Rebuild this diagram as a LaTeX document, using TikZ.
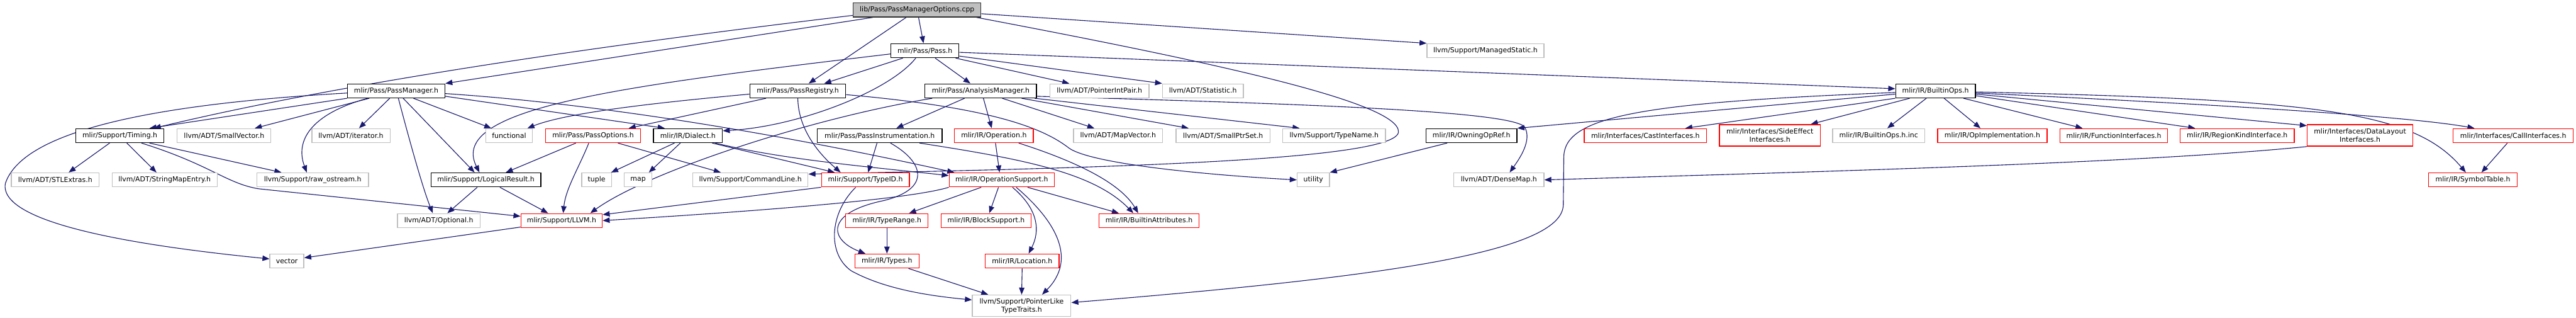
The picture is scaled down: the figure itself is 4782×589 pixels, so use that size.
\documentclass[tikz,border=0pt]{standalone}
\usepackage{fontspec}
\setmainfont{DejaVu Sans}
\usetikzlibrary{arrows.meta}
\definecolor{edgeblue}{HTML}{191970}
\definecolor{extgray}{HTML}{BFBFBF}
\pgfdeclarelayer{bg}
\pgfsetlayers{bg,main}
\tikzset{
  box/.style={draw, rectangle, fill=white, inner sep=0pt, minimum height=26pt, line width=1.5pt,
    font=\fontsize{12.76pt}{15pt}\selectfont, align=center},
  blk/.style={box, draw=black},
  ext/.style={box, draw=extgray},
  trn/.style={box, draw=red},
  root/.style={box, draw=black!80, fill=extgray},
  two/.style={minimum height=40pt},
  dep/.style={draw=edgeblue, line width=1.3pt, -{Triangle[length=13pt,width=10pt]}},
}
\begin{document}
\begin{tikzpicture}[x=1pt,y=-1pt]
\useasboundingbox (0,0) rectangle (4782,589);
% row A
\node[root, minimum width=237pt] (cpp) at (1702.5,18.5) {lib/Pass/PassManagerOptions.cpp};
% row B
\node[blk, minimum width=126pt] (pass) at (1717,94) {mlir/Pass/Pass.h};
\node[ext, minimum width=217pt] (managed) at (2757.5,94) {llvm/Support/ManagedStatic.h};
% row C
\node[blk, minimum width=181pt] (pm) at (735.5,168.5) {mlir/Pass/PassManager.h};
\node[blk, minimum width=178pt] (preg) at (1481,168.5) {mlir/Pass/PassRegistry.h};
\node[blk, minimum width=207pt] (am) at (1820.5,168.5) {mlir/Pass/AnalysisManager.h};
\node[ext, minimum width=184pt] (pip) at (2041,168.5) {llvm/ADT/PointerIntPair.h};
\node[ext, minimum width=150pt] (stat) at (2233,168.5) {llvm/ADT/Statistic.h};
\node[blk, minimum width=148pt] (bops) at (3593,168.5) {mlir/IR/BuiltinOps.h};
% row D
\node[blk, minimum width=163pt] (timing) at (222.5,251.5) {mlir/Support/Timing.h};
\node[ext, minimum width=174pt] (smallvec) at (416,251.5) {llvm/ADT/SmallVector.h};
\node[ext, minimum width=145pt] (iter) at (651.5,251.5) {llvm/ADT/iterator.h};
\node[ext, minimum width=86pt] (functional) at (945,251.5) {functional};
\node[trn, minimum width=176pt] (popts) at (1101,251.5) {mlir/Pass/PassOptions.h};
\node[blk, minimum width=128pt] (dialect) at (1277,251.5) {mlir/IR/Dialect.h};
\node[blk, minimum width=232pt] (pinst) at (1633,251.5) {mlir/Pass/PassInstrumentation.h};
\node[trn, minimum width=146pt] (op) at (1845,251.5) {mlir/IR/Operation.h};
\node[ext, minimum width=165pt] (mapvec) at (2075.5,251.5) {llvm/ADT/MapVector.h};
\node[ext, minimum width=175pt] (smallptr) at (2270.5,251.5) {llvm/ADT/SmallPtrSet.h};
\node[ext, minimum width=191pt] (typename) at (2476.5,251.5) {llvm/Support/TypeName.h};
\node[blk, minimum width=169pt] (owning) at (2731.5,251.5) {mlir/IR/OwningOpRef.h};
\node[trn, minimum width=227pt] (cast) at (3054.5,251.5) {mlir/Interfaces/CastInterfaces.h};
\node[trn, two, minimum width=187pt] (sideeff) at (3285.5,251) {mlir/Interfaces/SideEffect\\Interfaces.h};
\node[ext, minimum width=171pt] (binc) at (3487.5,251.5) {mlir/IR/BuiltinOps.h.inc};
\node[trn, minimum width=203pt] (opimpl) at (3698.5,251.5) {mlir/IR/OpImplementation.h};
\node[trn, minimum width=200pt] (funcif) at (3924,251.5) {mlir/IR/FunctionInterfaces.h};
\node[trn, minimum width=212pt] (regkind) at (4153,251.5) {mlir/IR/RegionKindInterface.h};
\node[trn, two, minimum width=196pt] (datalayout) at (4381,251) {mlir/Interfaces/DataLayout\\Interfaces.h};
\node[trn, minimum width=223pt] (callif) at (4665.5,251.5) {mlir/Interfaces/CallInterfaces.h};
% row E
\node[ext, minimum width=163pt] (stl) at (102.5,333.5) {llvm/ADT/STLExtras.h};
\node[ext, minimum width=195pt] (smap) at (305.5,333.5) {llvm/ADT/StringMapEntry.h};
\node[ext, minimum width=207pt] (raw) at (580.5,333.5) {llvm/Support/raw\_ostream.h};
\node[blk, minimum width=204pt] (logres) at (902,333.5) {mlir/Support/LogicalResult.h};
\node[ext, minimum width=55pt] (tuple) at (1107.5,333.5) {tuple};
\node[ext, minimum width=51pt] (map) at (1184.5,333.5) {map};
\node[ext, minimum width=214pt] (cmdline) at (1393,333.5) {llvm/Support/CommandLine.h};
\node[trn, minimum width=163pt] (typeid) at (1606.5,333.5) {mlir/Support/TypeID.h};
\node[trn, minimum width=195pt] (opsup) at (1859.5,333.5) {mlir/IR/OperationSupport.h};
\node[ext, minimum width=60pt] (utility) at (2438,333.5) {utility};
\node[ext, minimum width=167pt] (densemap) at (2782.5,333.5) {llvm/ADT/DenseMap.h};
\node[trn, minimum width=165pt] (symtab) at (4590.5,333.5) {mlir/IR/SymbolTable.h};
% row F
\node[ext, minimum width=153pt] (optional) at (814.5,409) {llvm/ADT/Optional.h};
\node[trn, minimum width=151pt] (llvmh) at (1042.5,409) {mlir/Support/LLVM.h};
\node[trn, minimum width=153pt] (trange) at (1646.5,409) {mlir/IR/TypeRange.h};
\node[trn, minimum width=167pt] (blocksup) at (1830.5,409) {mlir/IR/BlockSupport.h};
\node[trn, minimum width=186pt] (battr) at (2133,409) {mlir/IR/BuiltinAttributes.h};
% row G
\node[ext, minimum width=63pt] (vector) at (532.5,484) {vector};
\node[trn, minimum width=119pt] (types) at (1646.5,484) {mlir/IR/Types.h};
\node[trn, minimum width=137pt] (location) at (1897.5,484) {mlir/IR/Location.h};
% row H
\node[ext, two, minimum width=183pt] (plike) at (1896.5,567) {llvm/Support/PointerLike\\TypeTraits.h};

\begin{pgfonlayer}{bg}
% cpp
\draw[dep] (cpp) -- (pass);
\draw[dep] (cpp) -- (preg);
\draw[dep] ([xshift=-82pt]cpp.south) -- (pm.north east);
\draw[dep] ([yshift=-10pt]cpp.west) .. controls (1150,80) and (650,150) .. ([xshift=63pt]timing.north);
\draw[dep] ([yshift=-7pt]cpp.east) -- (managed.north west);
\draw[dep] ([xshift=110pt]cpp.south) .. controls (2250,115) and (2600,190) .. (2596,245) .. controls (2590,300) and (2000,312) .. ([yshift=-3pt]cmdline.north east);
% pass
\draw[dep] ([xshift=-41pt]pass.south) -- ([xshift=49pt]preg.north);
\draw[dep] ([xshift=-17pt]pass.south) .. controls (1650,170) and (1480,235) .. ([yshift=9pt]dialect.east);
\draw[dep] (pass) -- (am);
\draw[dep] ([yshift=-6pt]pass.west) .. controls (1150,160) and (830,200) .. ([xshift=-12pt]logres.north);
\draw[dep] ([xshift=57pt]pass.south) -- ([xshift=-56pt]pip.north);
\draw[dep] ([yshift=-10pt]pass.east) -- (stat.north west);
\draw[dep] ([yshift=-3pt]pass.east) -- ([yshift=4pt]bops.west);
% pass manager
\draw[dep] (pm.south west) -- ([xshift=55pt]timing.north);
\draw[dep] ([xshift=-50pt]pm.south) -- ([xshift=57pt]smallvec.north);
\draw[dep] ([xshift=-12pt]pm.south) -- ([xshift=15pt]iter.north);
\draw[dep] ([xshift=-53pt]pm.south) .. controls (575,212) and (548,262) .. ([xshift=-11pt]raw.north);
\draw[dep] ([yshift=-4pt]pm.west) .. controls (250,195) and (40,250) .. (10,340) .. controls (-5,420) and (300,460) .. ([yshift=4pt]vector.west);
\draw[dep] ([xshift=32pt]pm.south) -- ([xshift=-33pt]functional.north);
\draw[dep] ([xshift=13pt]pm.south) -- ([xshift=-21pt]logres.north);
\draw[dep] ([xshift=4pt]pm.south) .. controls (760,260) and (785,350) .. ([xshift=-11pt]optional.north);
\draw[dep] ([yshift=-10pt]pm.east) -- ([xshift=-43pt]dialect.north);
\draw[dep] ([yshift=-5pt]pm.east) .. controls (1150,195) and (1500,260) .. ([xshift=-88pt]opsup.north);
% pass registry
\draw[dep] (preg.south) .. controls (1482,240) and (1520,285) .. ([xshift=-46pt]typeid.north);
\draw[dep] ([yshift=-6pt]preg.west) .. controls (1200,192) and (1050,210) .. ([xshift=34pt]functional.north);
\draw[dep] ([xshift=-59pt]preg.south) -- ([xshift=66pt]popts.north);
\draw[dep] ([yshift=-7pt]preg.east) .. controls (1850,200) and (1940,240) .. (1985,275) .. controls (2030,305) and (2250,325) .. (utility.west);
% analysis manager
\draw[dep] ([xshift=-30pt]am.south) -- ([xshift=31pt]pinst.north);
\draw[dep] ([xshift=5pt]am.south) -- ([xshift=-4pt]op.north);
\draw[dep] ([xshift=-90pt]am.south) .. controls (1500,220) and (1200,320) .. ([xshift=-23pt]llvmh.north east);
\draw[dep] ([xshift=40pt]am.south) -- ([xshift=-44pt]mapvec.north);
\draw[dep] ([xshift=76pt]am.south) -- ([xshift=-64pt]smallptr.north);
\draw[dep] ([xshift=-4pt]am.south east) -- ([xshift=-64pt]typename.north);
\draw[dep] ([yshift=-10pt]am.east) .. controls (2400,192) and (2800,205) .. (2830,235) .. controls (2845,260) and (2820,295) .. ([xshift=20pt]densemap.north);
% builtin ops
\draw[dep] ([yshift=-6pt]bops.west) -- (owning.north east);
\draw[dep] ([yshift=-3pt]bops.west) .. controls (3050,190) and (2905,215) .. (2903,290) -- (2902,380) .. controls (2900,470) and (2550,515) .. ([yshift=6pt]plike.east);
\draw[dep] (bops.south west) -- ([xshift=74pt]cast.north);
\draw[dep] ([xshift=-48pt]bops.south) -- ([xshift=76pt]sideeff.north);
\draw[dep] ([xshift=-17pt]bops.south) -- ([xshift=16pt]binc.north);
\draw[dep] ([xshift=16pt]bops.south) -- ([xshift=-22pt]opimpl.north);
\draw[dep] ([xshift=52pt]bops.south) -- ([xshift=-58pt]funcif.north);
\draw[dep] ([yshift=-9pt]bops.east) -- ([xshift=-78pt]regkind.north);
\draw[dep] ([yshift=-6pt]bops.east) -- ([yshift=18pt]datalayout.west);
\draw[dep] ([yshift=-4pt]bops.east) .. controls (4000,188) and (4450,212) .. ([xshift=-72pt]callif.north);
\draw[dep] ([yshift=-2pt]bops.east) .. controls (4300,185) and (4480,205) .. ([xshift=-13pt]symtab.north);
% timing
\draw[dep] ([xshift=-19pt]timing.south) -- ([xshift=25pt]stl.north);
\draw[dep] ([xshift=13pt]timing.south) -- ([xshift=-15pt]smap.north);
\draw[dep] ([xshift=55pt]timing.south) -- ([xshift=-58pt]raw.north);
\draw[dep] ([xshift=40pt]timing.south) .. controls (390,305) and (420,340) .. (480,350) -- ([yshift=8pt]llvmh.west);
% pass options
\draw[dep] ([xshift=-32pt]popts.south) -- ([xshift=37pt]logres.north);
\draw[dep] ([xshift=-8pt]popts.south) .. controls (1075,310) and (1050,350) .. ([xshift=3pt]llvmh.north);
\draw[dep] ([xshift=46pt]popts.south) -- ([xshift=-55pt]cmdline.north);
% dialect
\draw[dep] ([xshift=-25pt]dialect.south) -- ([xshift=27pt]tuple.north);
\draw[dep] ([xshift=-14pt]dialect.south) -- ([xshift=20pt]map.north);
\draw[dep] ([xshift=45pt]dialect.south) -- ([xshift=-57pt]typeid.north);
\draw[dep] ([xshift=51pt]dialect.south) .. controls (1450,295) and (1600,308) .. ([yshift=8pt]opsup.west);
% pass instrumentation
\draw[dep] ([xshift=-5pt]pinst.south) -- ([xshift=5pt]typeid.north);
\draw[dep] ([xshift=20pt]pinst.south) .. controls (1715,300) and (1730,350) .. (1640,372) .. controls (1530,395) and (1540,445) .. ([xshift=-40pt]types.north);
\draw[dep] ([xshift=74pt]pinst.south) .. controls (1900,295) and (2030,320) .. ([xshift=-29pt]battr.north);
% operation
\draw[dep] ([xshift=3pt]op.south) -- ([xshift=-4pt]opsup.north);
\draw[dep] ([xshift=46pt]op.south) .. controls (2000,300) and (2080,340) .. ([xshift=-20pt]battr.north);
% operation support
\draw[dep] (opsup.south west) .. controls (1680,372) and (1350,395) .. (llvmh.east);
\draw[dep] ([xshift=-38pt]opsup.south) -- ([xshift=41pt]trange.north);
\draw[dep] ([xshift=-6pt]opsup.south) -- ([xshift=6pt]blocksup.north);
\draw[dep] ([xshift=20pt]opsup.south) .. controls (1930,390) and (1930,430) .. ([xshift=12pt]location.north);
\draw[dep] ([xshift=27pt]opsup.south) .. controls (1960,410) and (2000,480) .. ([xshift=38pt]plike.north);
\draw[dep] ([xshift=48pt]opsup.south) -- ([xshift=-56pt]battr.north);
% others
\draw[dep] ([xshift=-45pt]owning.south) -- (utility.north east);
\draw[dep] (datalayout.south west) .. controls (4000,300) and (3500,315) .. (densemap.east);
\draw[dep] ([xshift=-11pt]callif.south) -- ([xshift=16pt]symtab.north);
\draw[dep] ([xshift=-16pt]logres.south) -- ([xshift=16pt]optional.north);
\draw[dep] ([xshift=26pt]logres.south) -- ([xshift=-25pt]llvmh.north);
\draw[dep] (typeid.south west) -- ([yshift=11pt]llvmh.east);
\draw[dep] ([xshift=-18pt]typeid.south) .. controls (1540,395) and (1535,470) .. (1580,502) .. controls (1640,535) and (1720,548) .. ([yshift=11pt]plike.west);
\draw[dep] ([yshift=-12pt]llvmh.west) -- ([yshift=6pt]vector.east);
\draw[dep] (trange) -- (types);
\draw[dep] ([xshift=40pt]types.south) -- ([xshift=-62pt]plike.north);
\draw[dep] (location.south) -- (plike.north);
\end{pgfonlayer}
\end{tikzpicture}
\end{document}
